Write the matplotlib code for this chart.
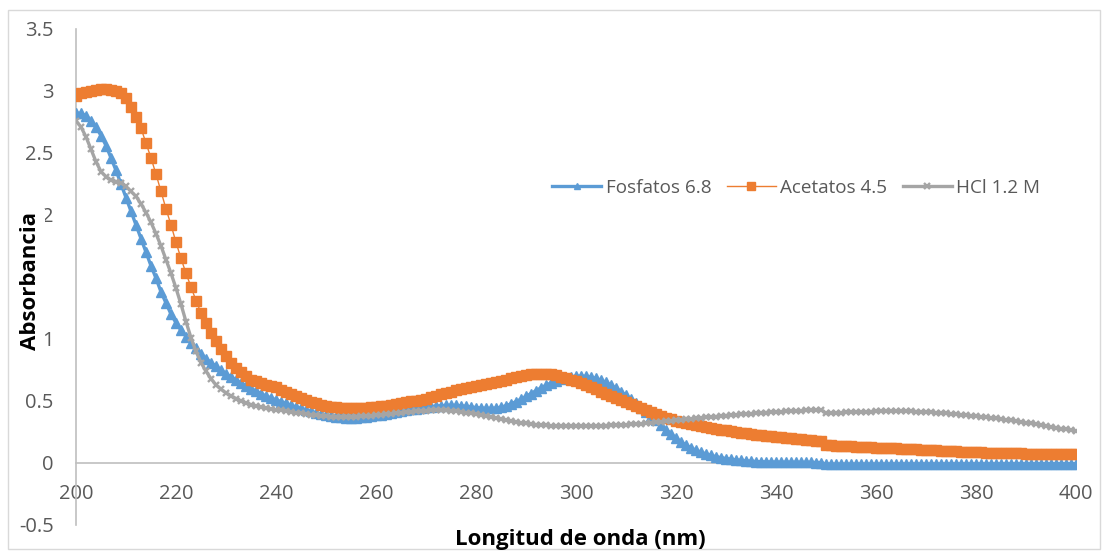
import numpy as np
import matplotlib
matplotlib.use("Agg")
import matplotlib.pyplot as plt
from matplotlib.patches import Rectangle

plt.rcParams['font.family'] = ['Open Sans', 'DejaVu Sans']

# Wavelengths (nm), one reading per nm
wavelength = list(range(200, 401))

fosfatos_68 = [
    2.82, 2.82, 2.80, 2.76, 2.71, 2.64, 2.56, 2.46, 2.36, 2.25,  # 200-209
    2.14, 2.03, 1.92, 1.81, 1.70, 1.59, 1.49, 1.38, 1.29, 1.20,  # 210-219
    1.13, 1.07, 1.02, 0.97, 0.925, 0.88, 0.84, 0.81, 0.78, 0.75,  # 220-229
    0.72, 0.695, 0.67, 0.645, 0.62, 0.60, 0.58, 0.56, 0.54, 0.525,  # 230-239
    0.51, 0.495, 0.48, 0.465, 0.452, 0.44, 0.428, 0.416, 0.405, 0.395,  # 240-249
    0.385, 0.377, 0.371, 0.367, 0.365, 0.365, 0.366, 0.369, 0.373, 0.378,  # 250-259
    0.384, 0.39, 0.397, 0.404, 0.411, 0.418, 0.425, 0.432, 0.438, 0.444,  # 260-269
    0.45, 0.455, 0.459, 0.462, 0.464, 0.465, 0.464, 0.461, 0.457, 0.452,  # 270-279
    0.447, 0.443, 0.44, 0.44, 0.443, 0.45, 0.462, 0.477, 0.495, 0.515,  # 280-289
    0.537, 0.56, 0.583, 0.606, 0.627, 0.646, 0.663, 0.677, 0.688, 0.695,  # 290-299
    0.699, 0.70, 0.698, 0.692, 0.682, 0.668, 0.65, 0.628, 0.603, 0.575,  # 300-309
    0.545, 0.513, 0.48, 0.446, 0.412, 0.378, 0.345, 0.31, 0.27, 0.235,  # 310-319
    0.20, 0.17, 0.145, 0.122, 0.103, 0.087, 0.073, 0.061, 0.051, 0.043,  # 320-329
    0.036, 0.03, 0.025, 0.021, 0.017, 0.014, 0.012, 0.010, 0.009, 0.008,  # 330-339
    0.007, 0.007, 0.006, 0.006, 0.006, 0.005, 0.005, 0.005, 0.004, 0.004,  # 340-349
    -0.010, -0.010, -0.011, -0.011, -0.011, -0.011, -0.010, -0.010, -0.010, -0.010,  # 350-359
    -0.010, -0.010, -0.010, -0.009, -0.009, -0.009, -0.009, -0.009, -0.009, -0.009,  # 360-369
    -0.009, -0.009, -0.009, -0.009, -0.008, -0.008, -0.008, -0.008, -0.008, -0.008,  # 370-379
    -0.008, -0.008, -0.008, -0.008, -0.008, -0.007, -0.007, -0.007, -0.007, -0.007,  # 380-389
    -0.007, -0.007, -0.007, -0.006, -0.006, -0.006, -0.006, -0.006, -0.006, -0.006,  # 390-399
    -0.006,  # 400
]

acetatos_45 = [
    2.96, 2.98, 2.99, 3.00, 3.01, 3.02, 3.02, 3.01, 3.00, 2.98,  # 200-209
    2.94, 2.87, 2.79, 2.70, 2.58, 2.46, 2.33, 2.19, 2.05, 1.92,  # 210-219
    1.78, 1.65, 1.53, 1.42, 1.31, 1.21, 1.13, 1.05, 0.98, 0.92,  # 220-229
    0.86, 0.81, 0.77, 0.73, 0.70, 0.67, 0.66, 0.645, 0.63, 0.62,  # 230-239
    0.61, 0.59, 0.57, 0.555, 0.54, 0.525, 0.51, 0.495, 0.48, 0.47,  # 240-249
    0.46, 0.455, 0.45, 0.445, 0.442, 0.44, 0.44, 0.442, 0.445, 0.448,  # 250-259
    0.452, 0.457, 0.462, 0.468, 0.474, 0.48, 0.488, 0.496, 0.504, 0.512,  # 260-269
    0.52, 0.531, 0.542, 0.553, 0.564, 0.575, 0.585, 0.594, 0.603, 0.612,  # 270-279
    0.62, 0.63, 0.64, 0.648, 0.656, 0.664, 0.673, 0.682, 0.691, 0.70,  # 280-289
    0.708, 0.714, 0.718, 0.72, 0.718, 0.714, 0.706, 0.696, 0.685, 0.672,  # 290-299
    0.658, 0.643, 0.627, 0.61, 0.593, 0.576, 0.559, 0.542, 0.525, 0.508,  # 300-309
    0.491, 0.474, 0.458, 0.442, 0.426, 0.41, 0.395, 0.38, 0.366, 0.353,  # 310-319
    0.34, 0.33, 0.322, 0.314, 0.307, 0.30, 0.292, 0.284, 0.277, 0.27,  # 320-329
    0.264, 0.257, 0.251, 0.245, 0.24, 0.234, 0.229, 0.224, 0.219, 0.214,  # 330-339
    0.21, 0.206, 0.202, 0.198, 0.194, 0.19, 0.186, 0.182, 0.178, 0.174,  # 340-349
    0.145, 0.143, 0.141, 0.139, 0.137, 0.135, 0.133, 0.131, 0.129, 0.127,  # 350-359
    0.125, 0.123, 0.121, 0.119, 0.117, 0.115, 0.113, 0.111, 0.109, 0.107,  # 360-369
    0.105, 0.103, 0.101, 0.099, 0.097, 0.095, 0.093, 0.091, 0.089, 0.087,  # 370-379
    0.086, 0.085, 0.084, 0.083, 0.082, 0.081, 0.080, 0.079, 0.078, 0.077,  # 380-389
    0.076, 0.075, 0.075, 0.074, 0.074, 0.073, 0.073, 0.072, 0.072, 0.071,  # 390-399
    0.071,  # 400
]

hcl_12m = [
    2.76, 2.71, 2.63, 2.53, 2.43, 2.35, 2.31, 2.28, 2.27, 2.26,  # 200-209
    2.23, 2.19, 2.15, 2.09, 2.02, 1.94, 1.85, 1.75, 1.64, 1.53,  # 210-219
    1.41, 1.28, 1.14, 1.01, 0.90, 0.81, 0.74, 0.68, 0.63, 0.595,  # 220-229
    0.565, 0.54, 0.52, 0.50, 0.485, 0.47, 0.46, 0.45, 0.44, 0.435,  # 230-239
    0.43, 0.425, 0.418, 0.411, 0.405, 0.40, 0.395, 0.39, 0.385, 0.381,  # 240-249
    0.378, 0.375, 0.373, 0.372, 0.372, 0.373, 0.374, 0.376, 0.379, 0.382,  # 250-259
    0.386, 0.39, 0.394, 0.398, 0.402, 0.406, 0.41, 0.414, 0.417, 0.42,  # 260-269
    0.422, 0.424, 0.425, 0.425, 0.424, 0.422, 0.418, 0.413, 0.407, 0.40,  # 270-279
    0.393, 0.385, 0.377, 0.369, 0.361, 0.353, 0.345, 0.338, 0.331, 0.325,  # 280-289
    0.319, 0.314, 0.31, 0.306, 0.303, 0.301, 0.299, 0.298, 0.297, 0.297,  # 290-299
    0.297, 0.297, 0.298, 0.299, 0.30, 0.301, 0.302, 0.303, 0.305, 0.307,  # 300-309
    0.309, 0.311, 0.314, 0.317, 0.32, 0.323, 0.327, 0.331, 0.335, 0.339,  # 310-319
    0.343, 0.347, 0.351, 0.355, 0.359, 0.363, 0.367, 0.371, 0.375, 0.379,  # 320-329
    0.383, 0.386, 0.389, 0.392, 0.395, 0.398, 0.401, 0.404, 0.407, 0.41,  # 330-339
    0.412, 0.414, 0.416, 0.418, 0.42, 0.422, 0.424, 0.426, 0.428, 0.43,  # 340-349
    0.40, 0.402, 0.404, 0.406, 0.408, 0.41, 0.412, 0.413, 0.414, 0.415,  # 350-359
    0.416, 0.417, 0.417, 0.418, 0.418, 0.418, 0.417, 0.416, 0.415, 0.413,  # 360-369
    0.411, 0.409, 0.406, 0.403, 0.40, 0.397, 0.394, 0.39, 0.386, 0.382,  # 370-379
    0.378, 0.374, 0.369, 0.364, 0.359, 0.354, 0.349, 0.343, 0.337, 0.331,  # 380-389
    0.325, 0.319, 0.313, 0.306, 0.299, 0.292, 0.285, 0.278, 0.271, 0.264,  # 390-399
    0.257,  # 400
]

series_labels = ["Fosfatos 6.8", "Acetatos 4.5", "HCl 1.2 M"]
x_ticks = [200, 220, 240, 260, 280, 300, 320, 340, 360, 380, 400]
y_ticks = [-0.5, 0, 0.5, 1, 1.5, 2, 2.5, 3, 3.5]
y_tick_labels = ["-0.5", "0", "0.5", "1", "1.5", "2", "2.5", "3", "3.5"]

BLUE = "#5B9BD5"
ORANGE = "#ED7D31"
GRAY = "#A5A5A5"
TEXT = "#595959"
AXIS = "#BFBFBF"

W, H = 1108, 553
fig = plt.figure(figsize=(W / 100, H / 100), dpi=100)
fig.patches.append(Rectangle((8 / W, 4 / H), (W - 16) / W, (H - 14) / H,
                             transform=fig.transFigure, fill=False,
                             edgecolor="#D9D9D9", linewidth=1.0))

ax = fig.add_axes([76 / W, (H - 525) / H, 1000 / W, 496 / H])
ax.set_xlim(200, 400)
ax.set_ylim(-0.5, 3.5)

ax.plot(wavelength, fosfatos_68, color=BLUE, lw=2.4, marker="^", ms=6.5,
        mfc=BLUE, mec=BLUE, label=series_labels[0], zorder=3)
ax.plot(wavelength, acetatos_45, color=ORANGE, lw=1.0, marker="s", ms=7,
        mfc=ORANGE, mec=ORANGE, label=series_labels[1], zorder=4)
ax.plot(wavelength, hcl_12m, color=GRAY, lw=2.4, marker="x", ms=5, mew=1.7,
        mfc=GRAY, mec=GRAY, label=series_labels[2], zorder=5)

for s in ("top", "right"):
    ax.spines[s].set_visible(False)
ax.spines["bottom"].set_position(("data", 0))
for s in ("left", "bottom"):
    ax.spines[s].set_color(AXIS)
    ax.spines[s].set_linewidth(1.2)

ax.set_xticks(x_ticks)
ax.set_xticklabels([str(v) for v in x_ticks])
ax.set_yticks(y_ticks)
ax.set_yticklabels(y_tick_labels)
ax.tick_params(axis="both", length=0, labelsize=14.5, labelcolor=TEXT)
ax.tick_params(axis="x", pad=15)
ax.tick_params(axis="y", pad=16)

# Axis title sits on a white backing over the tick-label column
fig.text(31 / W, 1 - 281 / H, "Absorbancia", rotation=90, ha="center",
         va="center", fontsize=16, fontweight="bold", color="black",
         zorder=10,
         bbox=dict(facecolor="white", edgecolor="none",
                   boxstyle="square,pad=0.15"))
fig.patches.append(Rectangle((20 / W, 1 - 292 / H), 36 / W, 24 / H,
                             transform=fig.transFigure, facecolor="white",
                             edgecolor="none", zorder=9))
fig.text(580 / W, 1 - 539 / H, "Longitud de onda (nm)", ha="center",
         va="center", fontsize=16, fontweight="bold", color="black")

leg = ax.legend(loc="center left", bbox_to_anchor=(552 / W, 1 - 188 / H),
                bbox_transform=fig.transFigure, ncol=3, frameon=False,
                fontsize=13.6, handlelength=2.6, handletextpad=0.25,
                columnspacing=0.8, markerscale=0.75, labelcolor=TEXT,
                borderaxespad=0, borderpad=0)

fig.savefig("out.png", dpi=100)
